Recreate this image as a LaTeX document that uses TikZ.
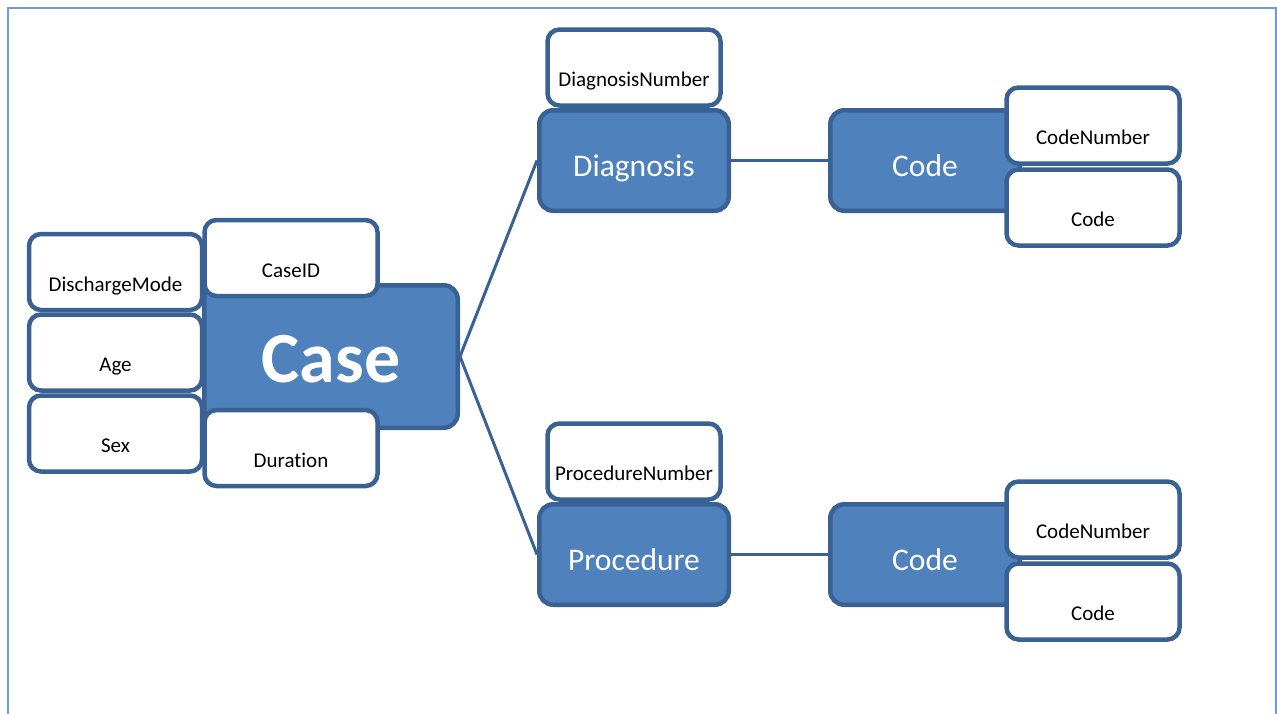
\documentclass[tikz,border=0pt]{standalone}
\usepackage{fontspec}
\setmainfont{Carlito}[Ligatures=NoCommon]
\definecolor{entfill}{HTML}{4F81BD}
\definecolor{entline}{HTML}{3A6194}
\definecolor{framecol}{HTML}{6E9BD5}
\begin{document}
\begin{tikzpicture}[x=1pt,y=-1pt]
        \tikzstyle{entity}=[rectangle,rounded corners=14pt,line width=4.5pt,draw=entline,fill=entfill,text=white,minimum width=189.5pt,minimum height=100.5pt,font=\fontsize{31.5}{36}\selectfont,text height=32pt,text depth=0pt]
        \tikzstyle{attribute}=[rectangle,rounded corners=12pt,line width=4.5pt,draw=entline,fill=white,text=black,minimum width=173pt,minimum height=76pt,font=\fontsize{21}{25}\selectfont,text height=40pt,text depth=2pt]
        \tikzstyle{edge}=[draw=entline,line width=3pt]
        \useasboundingbox (0,0) rectangle (1277,713);
        \draw[framecol,line width=1.5pt] (8,740) -- (8,8) -- (1276,8) -- (1276,740);
        \begin{scope}
           % case with its attributes
           \node [entity,minimum width=253.5pt,minimum height=142.5pt,font=\fontsize{72}{80}\selectfont\bfseries,text height=52pt] (case) at (331,356.5) {Case};
           \node [attribute] (dischargemode) at (115.5,272) {DischargeMode};
           \node [attribute] (age) at (115.5,352.5) {Age};
           \node [attribute] (sex) at (115.5,433.5) {Sex};
           \node [attribute] (caseid) at (291,258) {CaseID};
           \node [attribute] (duration) at (291,448) {Duration};
           % diagnosis branch
           \node [attribute] (diagnum) at (634,67.5) {DiagnosisNumber};
           \node [entity] (diagnosis) at (634,160.5) {Diagnosis};
           \node [entity] (diagcode) at (925,160.5) {Code};
           \node [attribute] (diagcodenum) at (1093,125.5) {CodeNumber};
           \node [attribute] (diagcodetext) at (1093,207.5) {Code};
           % procedure branch
           \node [attribute] (procnum) at (634,461.5) {ProcedureNumber};
           \node [entity] (procedure) at (634,554.5) {Procedure};
           \node [entity] (proccode) at (925,554.5) {Code};
           \node [attribute] (proccodenum) at (1093,519.5) {CodeNumber};
           \node [attribute] (proccodetext) at (1093,601.5) {Code};
           \path[edge] (case.east) -- (diagnosis.west);
           \path[edge] (case.east) -- (procedure.west);
           \path[edge] (diagnosis.east) -- (diagcode.west);
           \path[edge] (procedure.east) -- (proccode.west);
        \end{scope}
\end{tikzpicture}
\end{document}
